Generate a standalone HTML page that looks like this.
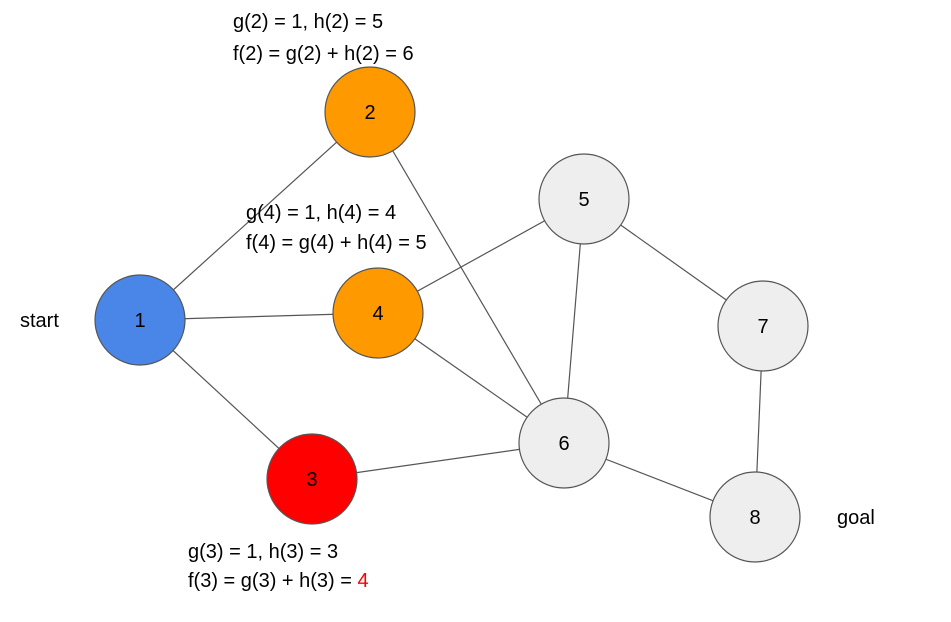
<!DOCTYPE html>
<html><head><meta charset="utf-8"><style>
html,body{margin:0;padding:0;background:#fff;}
svg{display:block;}
text{font-family:"Liberation Sans",Arial,sans-serif;font-size:20px;fill:#000;}
</style></head><body>
<svg width="951" height="622" viewBox="0 0 951 622" xmlns="http://www.w3.org/2000/svg">
<g stroke="#555" stroke-width="1.2">
<line x1="140" y1="320" x2="370" y2="112"/>
<line x1="140" y1="320" x2="378" y2="313"/>
<line x1="140" y1="320" x2="312" y2="479"/>
<line x1="370" y1="112" x2="564" y2="443"/>
<line x1="378" y1="313" x2="584" y2="199"/>
<line x1="378" y1="313" x2="564" y2="443"/>
<line x1="312" y1="479" x2="564" y2="443"/>
<line x1="584" y1="199" x2="564" y2="443"/>
<line x1="584" y1="199" x2="763" y2="326"/>
<line x1="763" y1="326" x2="755" y2="517"/>
<line x1="564" y1="443" x2="755" y2="517"/>
</g>
<g stroke="#555" stroke-width="1.2">
<circle cx="140" cy="320" r="45" fill="#4a86e8"/>
<circle cx="370" cy="112" r="45" fill="#ff9900"/>
<circle cx="378" cy="313" r="45" fill="#ff9900"/>
<circle cx="312" cy="479" r="45" fill="#ff0000"/>
<circle cx="584" cy="199" r="45" fill="#eeeeee"/>
<circle cx="564" cy="443" r="45" fill="#eeeeee"/>
<circle cx="763" cy="326" r="45" fill="#eeeeee"/>
<circle cx="755" cy="517" r="45" fill="#eeeeee"/>
</g>
<g text-anchor="middle">
<text x="140" y="327">1</text>
<text x="370" y="119">2</text>
<text x="378" y="320">4</text>
<text x="312" y="486">3</text>
<text x="584" y="206">5</text>
<text x="564" y="450">6</text>
<text x="763" y="333">7</text>
<text x="755" y="524">8</text>
</g>
<text x="233" y="28">g(2) = 1, h(2) = 5</text>
<text x="233" y="60">f(2) = g(2) + h(2) = 6</text>
<text x="246" y="219">g(4) = 1, h(4) = 4</text>
<text x="246" y="249">f(4) = g(4) + h(4) = 5</text>
<text x="188" y="558">g(3) = 1, h(3) = 3</text>
<text x="188" y="587">f(3) = g(3) + h(3) = <tspan fill="#ff0000">4</tspan></text>
<text x="20" y="327">start</text>
<text x="837" y="524">goal</text>
</svg>
</body></html>
